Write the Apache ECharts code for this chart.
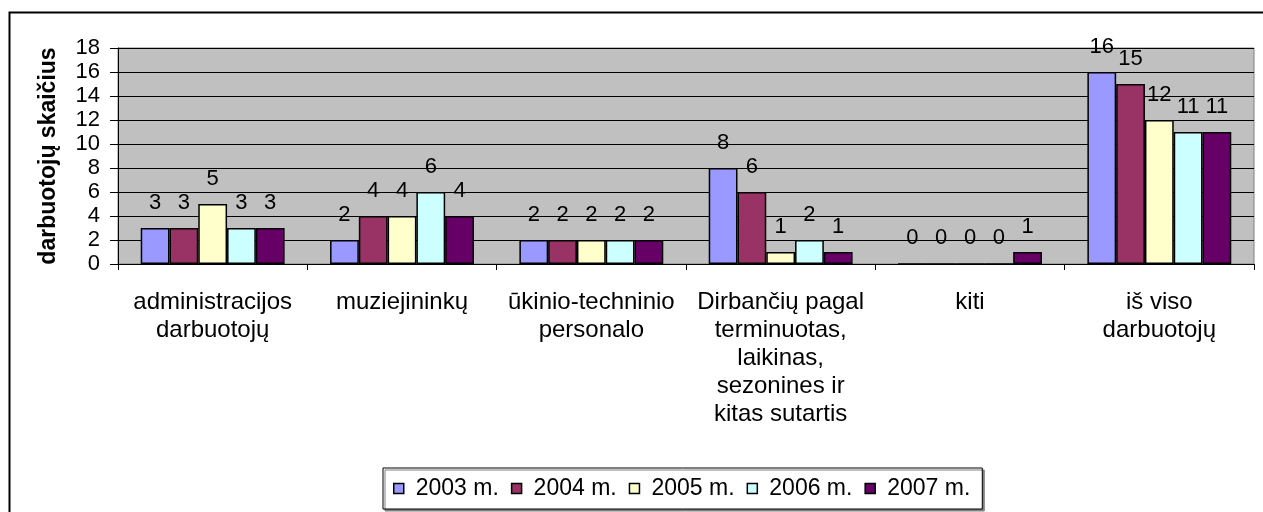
<!DOCTYPE html>
<html>
<head>
<meta charset="utf-8">
<script src="https://cdn.jsdelivr.net/npm/echarts@6/dist/echarts.min.js"></script>
<style>
  html, body { margin: 0; padding: 0; background: #fff; }
  #main { width: 1263px; height: 512px; }
</style>
</head>
<body>
<div id="main"></div>
<script>
// categories and per-year values
var categories = [
    'administracijos\ndarbuotojų',
    'muziejininkų',
    'ūkinio-techninio\npersonalo',
    'Dirbančių pagal\nterminuotas,\nlaikinas,\nsezonines ir\nkitas sutartis',
    'kiti',
    'iš viso\ndarbuotojų'
]
var years = ['2003 m.', '2004 m.', '2005 m.', '2006 m.', '2007 m.']
var v2003 = [3, 2, 2, 8, 0, 16]
var v2004 = [3, 4, 2, 6, 0, 15]
var v2005 = [5, 4, 2, 1, 0, 12]
var v2006 = [3, 6, 2, 2, 0, 11]
var v2007 = [3, 4, 2, 1, 1, 11]
var yTicks = [0, 18, 2] // min, max, step

var colors = ['#9999FF', '#993366', '#FFFFCC', '#CCFFFF', '#660066']
var font = 'Arial, "Liberation Sans", sans-serif'

var chart = echarts.init(document.getElementById('main'))

var seriesData = [v2003, v2004, v2005, v2006, v2007]
var series = seriesData.map(function (d, i) {
    return {
        name: years[i],
        type: 'bar',
        data: d,
        barGap: 0,
        barCategoryGap: '24%',
        itemStyle: { color: colors[i], borderColor: '#000', borderWidth: 1.5 },
        label: {
            show: true,
            position: 'top',
            distance: 14,
            color: '#000',
            fontSize: 22,
            fontFamily: font
        }
    }
})

var option = {
    animation: false,
    color: colors,
    graphic: [{
        // outer chart frame, bottom edge falls outside the picture
        type: 'rect',
        left: 7, top: 10,
        shape: { width: 1270, height: 520 },
        style: { fill: 'none', stroke: '#000', lineWidth: 2 }
    }],
    legend: {
        data: years,
        left: 383,
        top: 468,
        padding: [9, 12, 9, 10],
        itemWidth: 10,
        itemHeight: 10,
        itemGap: 12,
        icon: 'rect',
        borderColor: '#000',
        borderWidth: 1,
        backgroundColor: '#fff',
        shadowColor: '#808080',
        shadowOffsetX: 2,
        shadowOffsetY: 2,
        shadowBlur: 0,
        itemStyle: { borderColor: '#000', borderWidth: 1.5 },
        textStyle: { color: '#000', fontSize: 23, fontFamily: font, padding: [0, 0, 0, 7] }
    },
    grid: {
        left: 118, right: 9, top: 48, bottom: 248,
        show: true,
        backgroundColor: '#C0C0C0',
        borderColor: '#808080',
        borderWidth: 1
    },
    xAxis: {
        type: 'category',
        data: categories,
        axisLine: { lineStyle: { color: '#000', width: 1 } },
        axisTick: { show: true, length: 6, lineStyle: { color: '#000' } },
        axisLabel: {
            interval: 0,
            margin: 24,
            color: '#000',
            fontSize: 24,
            lineHeight: 28,
            fontFamily: font,
            align: 'center'
        }
    },
    yAxis: {
        type: 'value',
        min: yTicks[0], max: yTicks[1], interval: yTicks[2],
        name: 'darbuotojų skaičius',
        nameLocation: 'middle',
        nameGap: 58,
        nameTextStyle: { color: '#000', fontSize: 23, fontWeight: 'bold', fontFamily: font },
        axisLine: { show: true, lineStyle: { color: '#000' } },
        axisTick: { show: true, length: 8, lineStyle: { color: '#000' } },
        axisLabel: { color: '#000', fontSize: 22, fontFamily: font, margin: 18 },
        splitLine: { show: true, lineStyle: { color: '#000', width: 1 } }
    },
    series: series
}

chart.setOption(option)
</script>
</body>
</html>
